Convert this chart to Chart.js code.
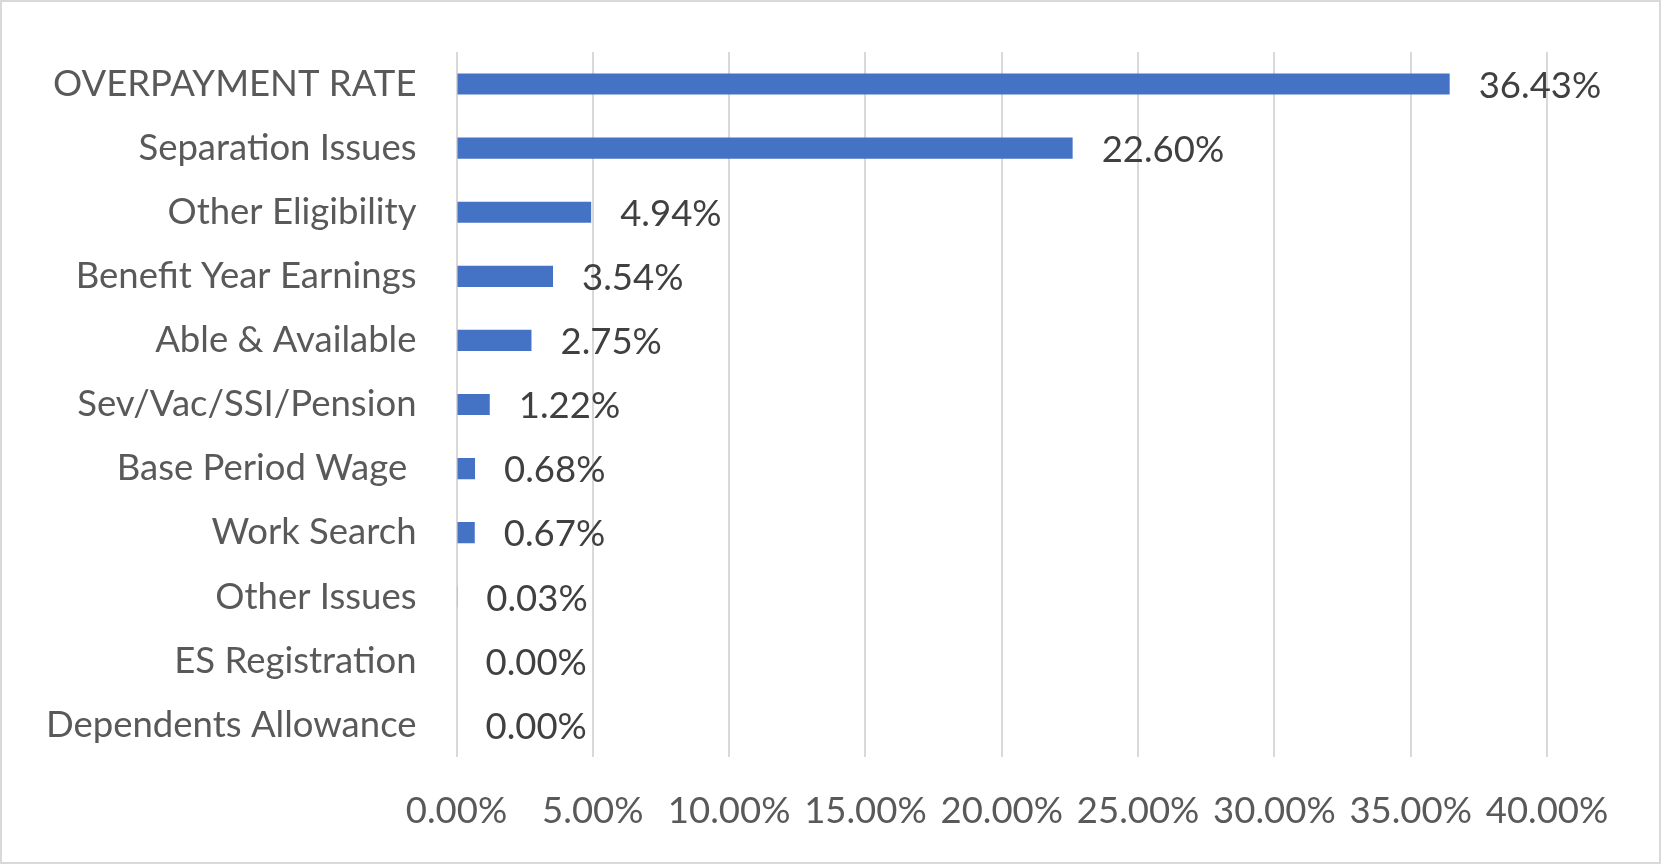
<!DOCTYPE html>
<html>
<head>
<meta charset="utf-8">
<script src="https://cdn.jsdelivr.net/npm/chart.js@4.4.1/dist/chart.umd.min.js"></script>
<style>
  html, body { margin: 0; padding: 0; background: #ffffff; }
  #wrap { width: 1661px; height: 864px; position: relative; }
  canvas { display: block; }
</style>
</head>
<body>
<div id="wrap"><canvas id="c" width="1661" height="864"></canvas></div>
<script>
const categories = [
  "OVERPAYMENT RATE",
  "Separation Issues",
  "Other Eligibility",
  "Benefit Year Earnings",
  "Able & Available",
  "Sev/Vac/SSI/Pension",
  "Base Period Wage ",
  "Work Search",
  "Other Issues",
  "ES Registration",
  "Dependents Allowance"
];
const rates = [36.43, 22.60, 4.94, 3.54, 2.75, 1.22, 0.68, 0.67, 0.03, 0.00, 0.00];
const xTicks = [0, 5, 10, 15, 20, 25, 30, 35, 40];

const FONT = "Lato, 'Open Sans', sans-serif";
const FSIZE = 36.5;

const frame = {
  id: 'frame',
  beforeDraw(chart) {
    const ctx = chart.ctx;
    ctx.save();
    ctx.fillStyle = '#ffffff';
    ctx.fillRect(0, 0, chart.width, chart.height);
    ctx.strokeStyle = '#d9d9d9';
    ctx.lineWidth = 2;
    ctx.strokeRect(1, 1, chart.width - 2, chart.height - 2);
    ctx.restore();
  }
};

const valueLabels = {
  id: 'valueLabels',
  afterDatasetsDraw(chart) {
    const ctx = chart.ctx;
    const meta = chart.getDatasetMeta(0);
    ctx.save();
    ctx.font = FSIZE + "px " + FONT;
    ctx.fillStyle = '#404040';
    ctx.textAlign = 'left';
    ctx.textBaseline = 'middle';
    meta.data.forEach((bar, i) => {
      const v = rates[i];
      ctx.fillText(v.toFixed(2) + '%', bar.x + 29, bar.y + 2);
    });
    ctx.restore();
  }
};

new Chart(document.getElementById('c'), {
  type: 'bar',
  data: {
    labels: categories,
    datasets: [{
      data: rates,
      backgroundColor: '#4472c4',
      borderWidth: 0,
      barPercentage: 0.33,
      categoryPercentage: 1.0
    }]
  },
  options: {
    indexAxis: 'y',
    responsive: false,
    animation: false,
    events: [],
    layout: { padding: { left: 0, right: 114, top: 52, bottom: 0 } },
    plugins: {
      legend: { display: false },
      tooltip: { enabled: false },
      title: { display: false }
    },
    scales: {
      x: {
        min: 0,
        max: 40,
        afterBuildTicks(scale) {
          scale.ticks = xTicks.map(v => ({ value: v }));
        },
        afterFit(scale) {
          scale.height = 107;
          scale.paddingLeft = 0;
          scale.paddingRight = 0;
        },
        grid: { color: '#d9d9d9', lineWidth: 2, drawTicks: false },
        border: { display: false },
        ticks: {
          padding: 32,
          color: '#595959',
          font: { family: FONT, size: FSIZE },
          maxRotation: 0,
          autoSkip: false,
          callback: v => v.toFixed(2) + '%'
        }
      },
      y: {
        afterFit(scale) {
          scale.width = 456.5;
          scale.paddingTop = 0;
          scale.paddingBottom = 0;
        },
        grid: { display: false, drawTicks: false },
        border: { display: false },
        ticks: {
          padding: 40,
          color: '#595959',
          font: { family: FONT, size: FSIZE },
          autoSkip: false
        }
      }
    }
  },
  plugins: [frame, valueLabels]
});
</script>
</body>
</html>
